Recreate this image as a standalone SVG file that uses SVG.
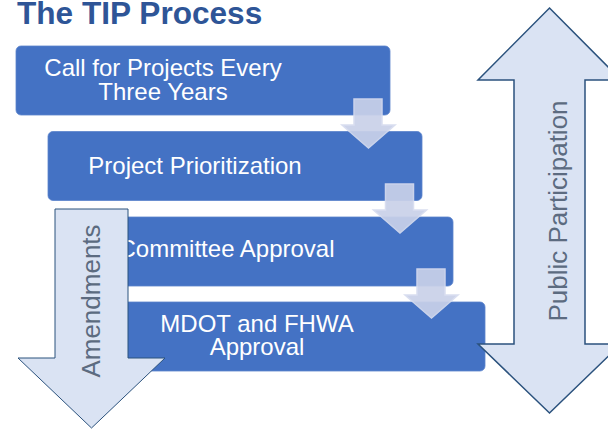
<svg xmlns="http://www.w3.org/2000/svg" width="608" height="429" viewBox="0 0 608 429">
<style>
.box{fill:#4472C4;stroke:#5A83CC;stroke-width:0.8}
.bt{font-family:"Liberation Sans",Arial,sans-serif;font-size:24px;fill:#FFFFFF;text-anchor:middle}
.big{fill:#DAE3F3;stroke:#2B527D;stroke-width:1.5;stroke-linejoin:miter}
.rt{font-family:"Liberation Sans",Arial,sans-serif;font-size:26px;fill:#5C6B80;text-anchor:middle}
.sa{fill:#C9D1E9;opacity:0.92;stroke:#D6DCEF;stroke-width:1.5}
.title{font-family:"Liberation Sans",Arial,sans-serif;font-size:31.6px;font-weight:bold;fill:#2E5597}
</style>
<text class="title" x="17" y="24">The TIP Process</text>
<g id="step1">
<rect class="box" x="16" y="46" width="374" height="69" rx="5"/>
<text class="bt" x="163" y="76">Call for Projects Every</text>
<text class="bt" x="163" y="100">Three Years</text>
</g>
<g id="step2">
<rect class="box" x="48" y="131.5" width="374" height="69" rx="5"/>
<text class="bt" x="195" y="174">Project Prioritization</text>
</g>
<g id="step3">
<rect class="box" x="80" y="217" width="373" height="69" rx="5"/>
<text class="bt" x="226.5" y="257">Committee Approval</text>
</g>
<g id="step4">
<rect class="box" x="111" y="302" width="374" height="69" rx="5"/>
<text class="bt" x="257" y="332">MDOT and FHWA</text>
<text class="bt" x="257" y="355">Approval</text>
</g>
<g id="connectors">
<polygon class="sa" points="354,99 382,99 382,125 395,125 368.5,148 342,125 354,125"/>
<polygon class="sa" points="354,99 382,99 382,125 395,125 368.5,148 342,125 354,125" transform="translate(31.5,85)"/>
<polygon class="sa" points="354,99 382,99 382,125 395,125 368.5,148 342,125 354,125" transform="translate(63,170)"/>
</g>
<g id="amendments">
<polygon class="big" style="stroke-width:1" points="55,209 128,209 128,358 165,358 91.5,428 18,358 55,358"/>
<text class="rt" transform="translate(100,301) rotate(-90)">Amendments</text>
</g>
<g id="public-participation">
<polygon class="big" points="549.5,8 621,80 585,80 585,344 621,344 549.5,413 478,344 514,344 514,80 478,80"/>
<text class="rt" transform="translate(567,211) rotate(-90)">Public Participation</text>
</g>
</svg>
